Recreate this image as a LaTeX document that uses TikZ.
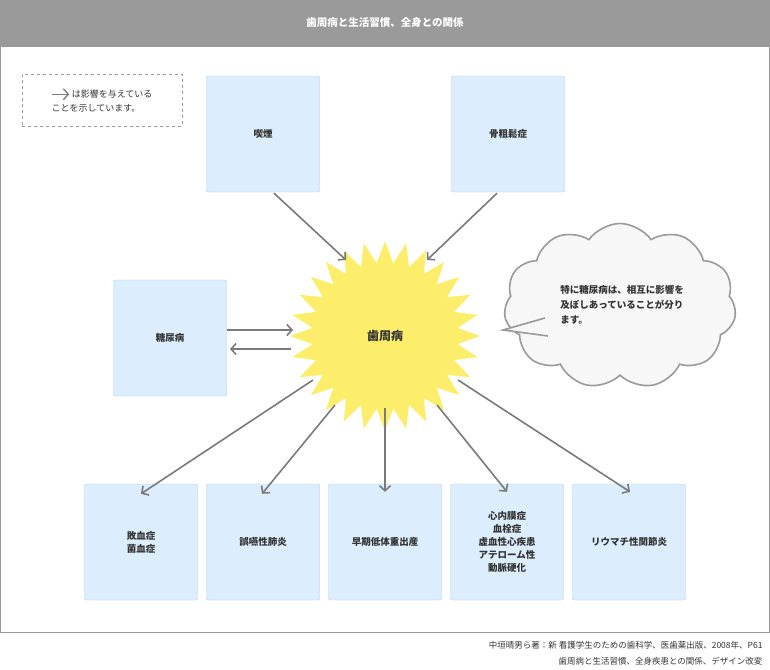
\documentclass[tikz,border=0pt]{standalone}
\usepackage{fontspec}
\setmainfont{Noto Sans CJK JP}
\usetikzlibrary{arrows.meta, shapes.geometric, shapes.symbols}
\definecolor{boxfill}{HTML}{DCEEFD}
\definecolor{boxline}{HTML}{A9CDEB}
\definecolor{arrowgray}{HTML}{7A7A7A}
\definecolor{titlegray}{HTML}{9A9A9A}
\definecolor{starfill}{HTML}{FCEE6A}
\definecolor{txt}{HTML}{333333}

\tikzset{
  factor/.style={draw=boxline, fill=boxfill, rounded corners=2pt, minimum width=113pt,
    minimum height=116pt, align=center, font=\bfseries\fontsize{9.5}{13}\selectfont, text=txt},
  effect/.style={draw=arrowgray, line width=1.6pt, -{Straight Barb[length=5pt,width=11pt]}}
}

\begin{document}
\begin{tikzpicture}[x=1pt, y=-1pt]

    % Frame
    \useasboundingbox (0,0) rectangle (770,669);
    \fill[titlegray] (0,0) rectangle (770,47);
    \node (title) at (385,23) {\color{white}\bfseries\fontsize{10.5}{12}\selectfont 歯周病と生活習慣、全身との関係};
    \draw[titlegray, line width=1pt] (0.5,47) rectangle (769.5,632);

    % Legend
    \node (legend) [draw=titlegray, dashed, line width=1pt, minimum width=160pt, minimum height=52pt,
        align=left, font=\fontsize{9}{14}\selectfont, text=txt] at (102,100)
        {\tikz[baseline=-3pt]\draw[effect, line width=1.3pt] (0,0) -- (17pt,0); は影響を与えている\\ことを示しています。};

    % Nodes
    \node (smoke) [factor] at (263,134) {喫煙};
    \node (osteo) [factor] at (508,134) {骨粗鬆症};
    \node (diab) [factor] at (170,338) {糖尿病};
    \node (sepsis) [factor] at (141,542) {敗血症\\菌血症};
    \node (pneu) [factor] at (263,542) {誤嚥性肺炎};
    \node (birth) [factor] at (385,542) {早期低体重出産};
    \node (heart) [factor] at (507,542) {心内膜症\\血栓症\\虚血性心疾患\\アテローム性\\動脈硬化};
    \node (rheum) [factor] at (629,542) {リウマチ性関節炎};

    \node (perio) [star, star points=28, star point ratio=1.3, fill=starfill, minimum size=190pt,
        inner sep=0pt, font=\bfseries\fontsize{12}{14}\selectfont, text=txt] at (385,336) {歯周病};

    % Cloud
    \node (note) [cloud, cloud puffs=11, cloud puff arc=110, aspect=1.5, draw=titlegray, line width=1.6pt,
        fill=gray!6, minimum width=232pt, minimum height=165pt] at (620,306) {};
    \coordinate (tail) at (503,330);
    \fill[gray!6] (545,318) -- (tail) -- (548,336) -- cycle;
    \draw[titlegray, line width=1.6pt] (545,318) -- (tail) -- (548,336);
    \node (notetext) [align=left, font=\bfseries\fontsize{9.5}{15}\selectfont, text=txt] at (622,305)
        {特に糖尿病は、相互に影響を\\及ぼしあっていることが分り\\ます。};

    % Arrows
    \draw[effect] (smoke.south) ++(11,1) coordinate (s1) (s1) -- (346,260);
    \draw[effect] (osteo.south) ++(-11,1) coordinate (o1) (o1) -- (427,260);
    \draw[effect] (diab.east |- 0,330) coordinate (d1) (d1) -- (293,330);
    \draw[effect] (perio.west |- 0,349) ++(2,0) coordinate (d2) (d2) -- (230,349);
    \draw[effect] (313,380) -- ([yshift=-10pt]sepsis.north);
    \draw[effect] (335,405) -- ([xshift=-1pt,yshift=-10pt]pneu.north);
    \draw[effect] (385,408) -- ([yshift=-8pt]birth.north);
    \draw[effect] (437,405) -- ([yshift=-8pt]heart.north);
    \draw[effect] (458,380) -- ([xshift=1pt,yshift=-8pt]rheum.north);

    % Source
    \node (src) [anchor=east, align=right, font=\fontsize{8.5}{16}\selectfont, text=txt] at (766,653)
        {中垣晴男ら著：新 看護学生のための歯科学、医歯薬出版、2008年、P61\\歯周病と生活習慣、全身疾患との関係、デザイン改変};

\end{tikzpicture}
\end{document}
